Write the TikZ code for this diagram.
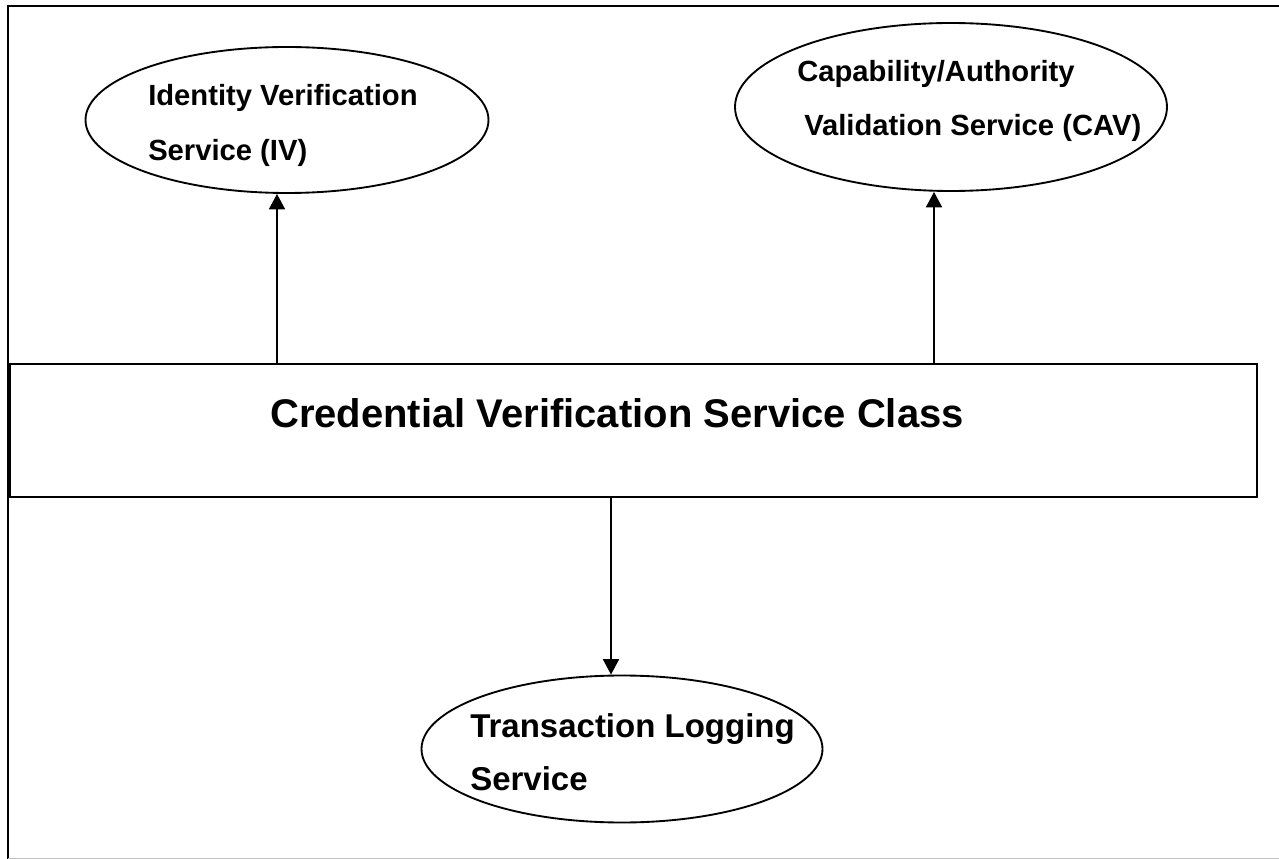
\documentclass[tikz,border=0pt]{standalone}
\usepackage{fontspec}
\setmainfont{Liberation Sans}
\usetikzlibrary{shapes.geometric,arrows.meta}
\begin{document}
\begin{tikzpicture}[x=0.75pt,y=-0.75pt,
  oval/.style={draw,ellipse,line width=1.4pt,inner sep=0pt},
  classbox/.style={draw,rectangle,line width=1.5pt,inner sep=0pt},
  arr/.style={line width=1.1pt,-{Triangle[width=12pt,length=11.5pt]}},
  lbl/.style={anchor=base west,inner sep=0pt,font=\bfseries\fontsize{21.9}{26}\selectfont},
  lblbig/.style={anchor=base west,inner sep=0pt,font=\bfseries\fontsize{24.75}{30}\selectfont},
  title/.style={anchor=base,inner sep=0pt,font=\bfseries\fontsize{30}{36}\selectfont}]
\useasboundingbox (0,0) rectangle (1279,859);
% outer frame (right side lies beyond the picture)
\draw[line width=1.5pt] (1300,6) -- (8,6) -- (8,858.5);
\draw[line width=1pt,black!25] (8,858.5) -- (1300,858.5);
% ellipses
\node[oval,minimum width=302.25pt,minimum height=109.5pt] (iv) at (287,120) {};
\node[oval,minimum width=324pt,minimum height=126pt] (cav) at (951,107) {};
\node[oval,minimum width=300.75pt,minimum height=110.25pt] (tl) at (622,749) {};
% class box
\node[classbox,minimum width=935.25pt,minimum height=99.75pt] (box) at (633.5,430.5) {};
% texts
\node[lbl] (ivt1) at (148,106) {Identity Verification};
\node[lbl] (ivt2) at (148,161) {Service (IV)};
\node[lbl] (cavt1) at (797,82) {Capability/Authority};
\node[lbl] (cavt2) at (804,136) {Validation Service (CAV)};
\node[lblbig] (tlt1) at (470,737) {Transaction Logging};
\node[lblbig] (tlt2) at (470,790) {Service};
\node[title] (boxt) at (617,428) {Credential Verification Service Class};
% connectors
\coordinate (ivx) at (277,0);
\coordinate (cavx) at (934,0);
\coordinate (tlx) at (611,0);
\draw[arr] (box.north -| ivx) -- (iv.south -| ivx);
\draw[arr] (box.north -| cavx) -- (cav.south -| cavx);
\draw[arr] (box.south -| tlx) -- (tl.north -| tlx);
\end{tikzpicture}
\end{document}
